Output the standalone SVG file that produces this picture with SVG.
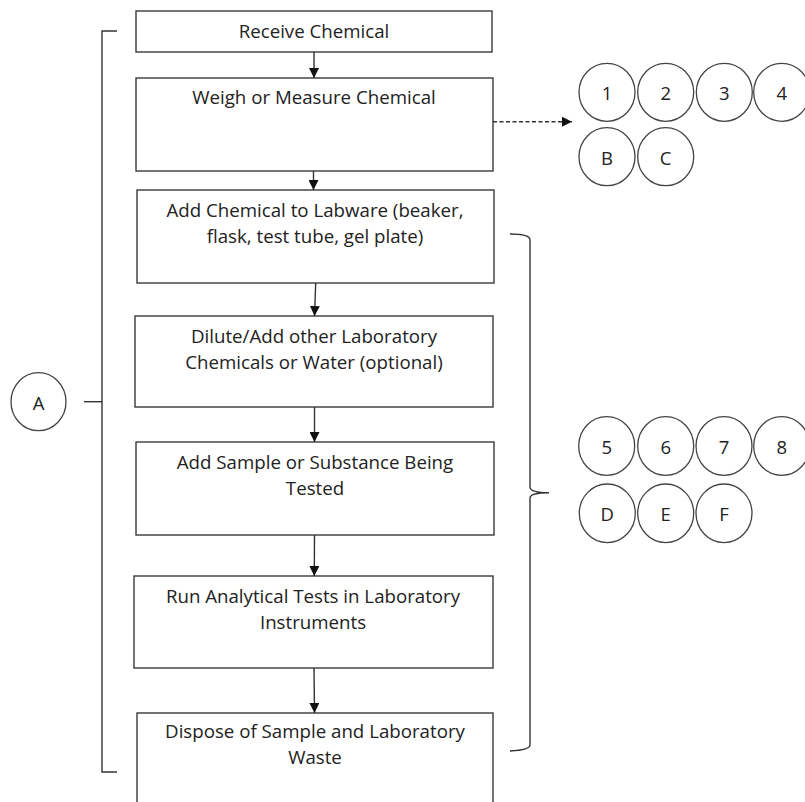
<svg xmlns="http://www.w3.org/2000/svg" width="805" height="802" viewBox="0 0 805 802">
<defs>
<style>
.box{fill:#fff;stroke:#3a3a3a;stroke-width:1.4}
.t{font-family:"Open Sans","Liberation Sans",sans-serif;font-size:18.7px;fill:#222;text-anchor:middle}
.c{fill:#fff;stroke:#444;stroke-width:1.3}
.ct{font-family:"Open Sans","Liberation Sans",sans-serif;font-size:18.5px;fill:#222;text-anchor:middle;dominant-baseline:central}
.ln{fill:none;stroke:#333;stroke-width:1.4}
</style>
<marker id="ah" viewBox="0 0 10 10" refX="10" refY="5" markerWidth="10" markerHeight="10" markerUnits="userSpaceOnUse" orient="auto">
<path d="M0,0 L10,5 L0,10 Z" fill="#111"/>
</marker>
</defs>
<rect width="805" height="802" fill="#fff"/>

<g id="n1"><rect class="box" x="136" y="11" width="356" height="41"/><text class="t" x="314" y="37.5">Receive Chemical</text></g>
<g id="n2"><rect class="box" x="136" y="78" width="357" height="93"/><text class="t" x="314" y="104">Weigh or Measure Chemical</text></g>
<g id="n3"><rect class="box" x="137" y="190" width="357" height="93"/><text class="t" x="315" y="217">Add Chemical to Labware (beaker,</text><text class="t" x="315" y="243">flask, test tube, gel plate)</text></g>
<g id="n4"><rect class="box" x="135" y="316" width="358" height="91"/><text class="t" x="314" y="343">Dilute/Add other Laboratory</text><text class="t" x="314" y="369">Chemicals or Water (optional)</text></g>
<g id="n5"><rect class="box" x="136" y="442" width="358" height="93"/><text class="t" x="315" y="469">Add Sample or Substance Being</text><text class="t" x="315" y="495">Tested</text></g>
<g id="n6"><rect class="box" x="134" y="576" width="359" height="92"/><text class="t" x="313" y="603">Run Analytical Tests in Laboratory</text><text class="t" x="313" y="629">Instruments</text></g>
<g id="n7"><rect class="box" x="137" y="713" width="356" height="100"/><text class="t" x="315" y="738">Dispose of Sample and Laboratory</text><text class="t" x="315" y="764">Waste</text></g>

<g id="cA"><ellipse class="c" cx="38.5" cy="401.7" rx="27.5" ry="29"/><text class="ct" x="38.5" y="402">A</text></g>

<g id="c1"><ellipse class="c" cx="607" cy="92.3" rx="28" ry="29"/><text class="ct" x="607" y="92.5">1</text></g>
<g id="c2"><ellipse class="c" cx="665.7" cy="92.3" rx="28" ry="29"/><text class="ct" x="665.7" y="92.5">2</text></g>
<g id="c3"><ellipse class="c" cx="724.3" cy="92.3" rx="28" ry="29"/><text class="ct" x="724.3" y="92.5">3</text></g>
<g id="c4"><ellipse class="c" cx="781.7" cy="92.3" rx="28" ry="29"/><text class="ct" x="781.7" y="92.5">4</text></g>
<g id="cB"><ellipse class="c" cx="607" cy="156.7" rx="28" ry="29"/><text class="ct" x="607" y="157">B</text></g>
<g id="cC"><ellipse class="c" cx="665.7" cy="156.7" rx="28" ry="29"/><text class="ct" x="665.7" y="157">C</text></g>

<g id="c5"><ellipse class="c" cx="606.7" cy="446" rx="28" ry="29.3"/><text class="ct" x="606.7" y="446">5</text></g>
<g id="c6"><ellipse class="c" cx="665.7" cy="446" rx="28" ry="29.3"/><text class="ct" x="665.7" y="446">6</text></g>
<g id="c7"><ellipse class="c" cx="724" cy="446" rx="28" ry="29.3"/><text class="ct" x="724" y="446">7</text></g>
<g id="c8"><ellipse class="c" cx="781.7" cy="446" rx="28" ry="29.3"/><text class="ct" x="781.7" y="446">8</text></g>
<g id="cD"><ellipse class="c" cx="607.3" cy="513.3" rx="28" ry="29.3"/><text class="ct" x="607.3" y="513.5">D</text></g>
<g id="cE"><ellipse class="c" cx="665.7" cy="513.3" rx="28" ry="29.3"/><text class="ct" x="665.7" y="513.5">E</text></g>
<g id="cF"><ellipse class="c" cx="724" cy="513.3" rx="28" ry="29.3"/><text class="ct" x="724" y="513.5">F</text></g>

<g id="connectors">
<line class="ln" x1="314" y1="52" x2="314" y2="78" marker-end="url(#ah)"/>
<line class="ln" x1="313.5" y1="171" x2="313.5" y2="190" marker-end="url(#ah)"/>
<line class="ln" x1="315.7" y1="283" x2="314.5" y2="316" marker-end="url(#ah)"/>
<line class="ln" x1="314.5" y1="407" x2="314.5" y2="442" marker-end="url(#ah)"/>
<line class="ln" x1="314.5" y1="535" x2="314.3" y2="576" marker-end="url(#ah)"/>
<line class="ln" x1="314" y1="668" x2="314.5" y2="713" marker-end="url(#ah)"/>
<line class="ln" x1="493" y1="121.7" x2="572" y2="121.7" stroke-dasharray="4,2.5" marker-end="url(#ah)"/>
<path class="ln" d="M117,31 L102,31 L102,772 L117,772"/>
<line class="ln" x1="84" y1="401.7" x2="102" y2="401.7"/>
<path class="ln" d="M510,234 Q530,234 530,240 L530,487 Q530,492.7 549,492.7 Q530,492.7 530,498 L530,745 Q530,750 510,751"/>
</g>
</svg>
